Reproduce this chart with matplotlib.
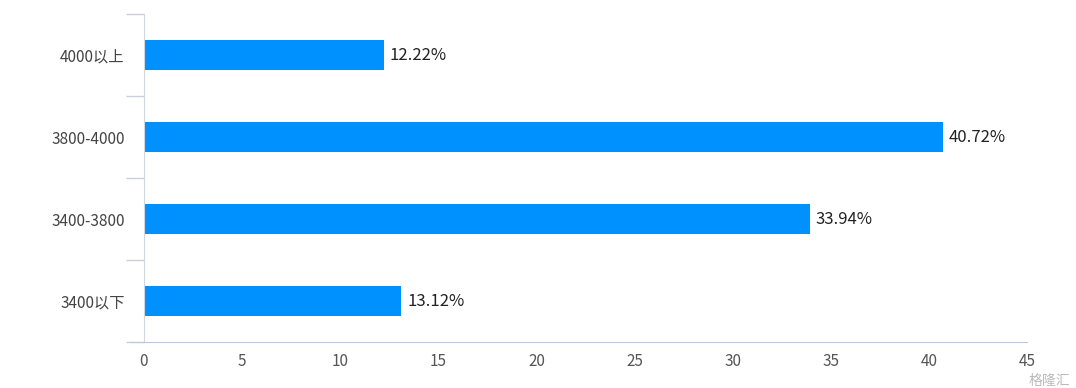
import matplotlib.pyplot as plt
import numpy as np

plt.rcParams['font.family'] = ['Noto Sans CJK SC', 'DejaVu Sans']

categories = ['3400以下', '3400-3800', '3800-4000', '4000以上']
values = [13.12, 33.94, 40.72, 12.22]
xticks = [0, 5, 10, 15, 20, 25, 30, 35, 40, 45]

fig = plt.figure(figsize=(10.76, 3.88), dpi=100, facecolor='white')
ax = fig.add_axes([144 / 1076, 1 - 342 / 388, (1027 - 144) / 1076, (342 - 14) / 388])

y = np.arange(len(categories))
ax.barh(y, values, height=0.37, color='#0091FF')
for yi, v in zip(y, values):
    ax.text(v + 0.3, yi, f'{v:.2f}%', va='center', ha='left', fontsize=12, color='#222222')

ax.set_xlim(0, 45)
ax.set_ylim(-0.5, 3.5)
ax.set_xticks(xticks)
ax.set_xticklabels([str(t) for t in xticks], fontsize=11, color='#555555')
ax.set_yticks(y)
ax.set_yticklabels(categories, fontsize=11, color='#444444')
ax.set_yticks(np.arange(-0.5, 4, 1), minor=True)
ax.tick_params(axis='y', which='major', length=0, pad=14)
ax.tick_params(axis='y', which='minor', length=13, color='#c8d0dc', width=1)
ax.tick_params(axis='x', length=0, pad=8)

for s in ['top', 'right']:
    ax.spines[s].set_visible(False)
ax.spines['left'].set_color('#d0d6de')
ax.spines['bottom'].set_color('#b8cce0')
ax.spines['bottom'].set_bounds(-0.66, 45)
ax.spines['bottom'].set_clip_on(False)

fig.text(0.995, 0.018, '格隆汇', ha='right', va='center', fontsize=10, color='#bbbbbb')

fig.savefig('out.png', dpi=100)
